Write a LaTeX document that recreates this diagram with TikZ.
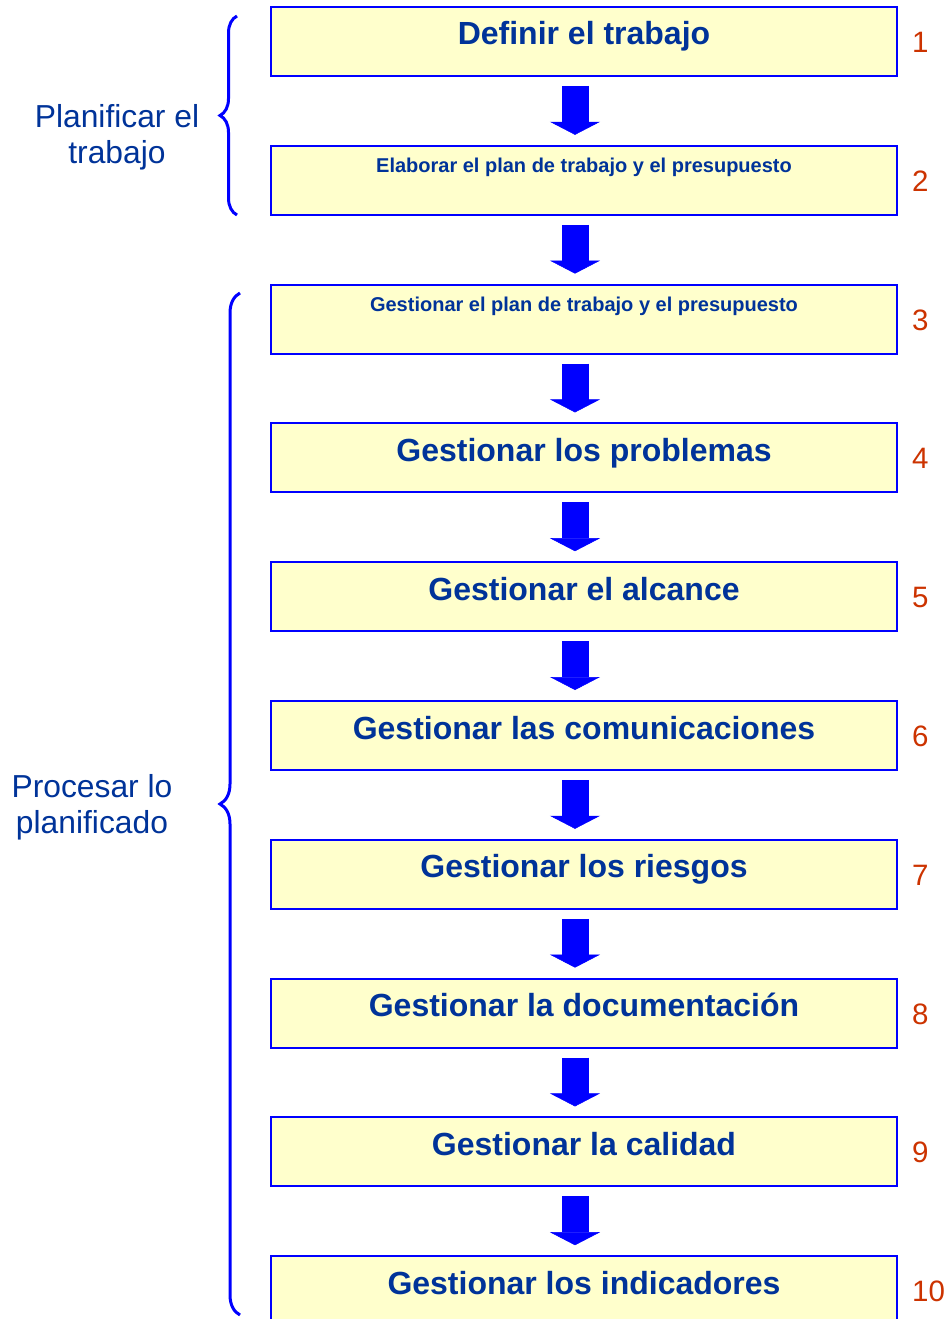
\documentclass[tikz,border=0pt]{standalone}
\usepackage{fontspec}
\setmainfont{Liberation Sans}
\usetikzlibrary{arrows.meta, decorations.pathreplacing}
\definecolor{boxfill}{RGB}{255,255,204}
\definecolor{boxline}{RGB}{0,0,255}
\definecolor{txtblue}{RGB}{0,51,153}
\definecolor{numred}{RGB}{204,51,0}
\tikzset{
  stepbig/.style={draw=boxline, line width=2pt, fill=boxfill, minimum width=626pt, minimum height=69pt,
    inner sep=0pt, text=txtblue, font=\bfseries\fontsize{32}{36}\selectfont, text height=22pt, text depth=15pt},
  stepsmall/.style={stepbig, font=\bfseries\fontsize{20}{24}\selectfont, text height=14pt, text depth=29pt},
  num/.style={anchor=base west, text=numred, font=\fontsize{29.5}{32}\selectfont, inner sep=0pt},
  phase/.style={align=center, text=txtblue, font=\fontsize{31.8}{36}\selectfont},
  flow/.style={boxline, line width=27pt, shorten <=9pt, shorten >=10pt,
    -{Triangle[width=50pt, length=13pt, line width=0.5pt]}},
  brc/.style={boxline, line width=3pt, decorate, decoration={brace, amplitude=#1}}
}
\begin{document}
\begin{tikzpicture}[x=1pt, y=-1pt]
		\useasboundingbox (0,0) rectangle (950,1319);
		\coordinate (ax) at (575,0);
		% steps
		\node[stepbig] (b1) at (584,41.5) {Definir el trabajo};
		\node[stepsmall] (b2) at (584,180.3) {Elaborar el plan de trabajo y el presupuesto};
		\node[stepsmall] (b3) at (584,319.1) {Gestionar el plan de trabajo y el presupuesto};
		\node[stepbig] (b4) at (584,457.9) {Gestionar los problemas};
		\node[stepbig] (b5) at (584,596.7) {Gestionar el alcance};
		\node[stepbig] (b6) at (584,735.5) {Gestionar las comunicaciones};
		\node[stepbig] (b7) at (584,874.3) {Gestionar los riesgos};
		\node[stepbig] (b8) at (584,1013.1) {Gestionar la documentación};
		\node[stepbig] (b9) at (584,1151.9) {Gestionar la calidad};
		\node[stepbig] (b10) at (584,1290.7) {Gestionar los indicadores};
		% numbers
		\node[num] (n1) at (912,52.5) {1};
		\node[num] (n2) at (912,191.3) {2};
		\node[num] (n3) at (912,330.1) {3};
		\node[num] (n4) at (912,468.9) {4};
		\node[num] (n5) at (912,607.7) {5};
		\node[num] (n6) at (912,746.5) {6};
		\node[num] (n7) at (912,885.3) {7};
		\node[num] (n8) at (912,1024.1) {8};
		\node[num] (n9) at (912,1162.9) {9};
		\node[num] (n10) at (912,1301.7) {10};
		% arrows
		\foreach \a/\b in {b1/b2, b2/b3, b3/b4, b4/b5, b5/b6, b6/b7, b7/b8, b8/b9, b9/b10}
			\draw[flow] (\a.south -| ax) -- (\b.north -| ax);
		% phases
		\draw[brc=17pt] (237,215) -- (237,16);
		\draw[brc=20pt] (240,1315) -- (240,293);
		\node[phase] (plan) at (117,137) {Planificar el\\trabajo};
		\node[phase] (proc) at (92,807) {Procesar lo\\planificado};
	\end{tikzpicture}
\end{document}
